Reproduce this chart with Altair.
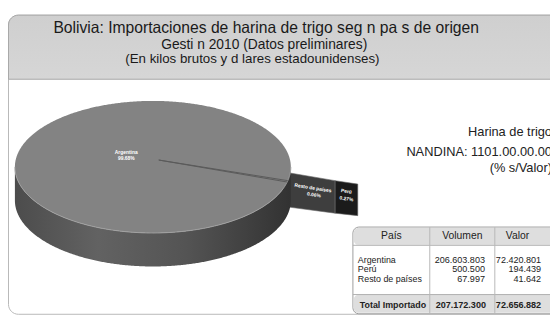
import altair as alt
import numpy as np
import pandas as pd

# ---------------- data ----------------
paises = ["Argentina", "Perú", "Resto de países"]
volumen = ["206.603.803", "500.500", "67.997"]
valor = ["72.420.801", "194.439", "41.642"]
porcentaje = [99.68, 0.27, 0.06]
total_label = "Total Importado"
total_volumen = "207.172.300"
total_valor = "72.656.882"
col_headers = ["País", "Volumen", "Valor"]

titulo = "Bolivia: Importaciones de harina de trigo seg n pa s de origen"
subtitulo = "Gesti n 2010 (Datos preliminares)"
unidades = "(En kilos brutos y d lares estadounidenses)"
nota = ["Harina de trigo", "NANDINA: 1101.00.00.00", "(% s/Valor)"]

# ---------------- layout ----------------
W, H = 550, 310
FONT = "Liberation Sans, Arial, sans-serif"
xs = alt.Scale(domain=[0, W], nice=False, zero=False)
ys = alt.Scale(domain=[0, H], nice=False, zero=False, reverse=True)


def XQ(f):
    return alt.X(f"{f}:Q", scale=xs, axis=None)


def YQ(f):
    return alt.Y(f"{f}:Q", scale=ys, axis=None)


def rect_chart(df, **mark):
    return alt.Chart(df).mark_rect(**mark).encode(
        x=XQ("x0"), x2=alt.X2("x1:Q"), y=YQ("y0"), y2=alt.Y2("y1:Q")
    )


def text_chart(df, **mark):
    return alt.Chart(df).mark_text(font=FONT, **mark).encode(
        x=XQ("x"), y=YQ("y"), text="t:N"
    )


layers = []

# frame + header
layers.append(rect_chart(pd.DataFrame({"x0": [0.5], "x1": [W + 20], "y0": [5], "y1": [H - 1.5]}),
                         fill="white", stroke="#b8b8b8", strokeWidth=1, cornerRadius=10))
layers.append(rect_chart(pd.DataFrame({"x0": [0.5], "x1": [W + 20], "y0": [5], "y1": [70]}),
                         fill=alt.Gradient(gradient="linear", x1=0, x2=0, y1=0, y2=1,
                                           stops=[alt.GradientStop(offset=0, color="#cfcfcf"),
                                                  alt.GradientStop(offset=1, color="#d6d6d6")]),
                         stroke="#a8a8a8", strokeWidth=1, cornerRadiusTopLeft=10))

layers.append(text_chart(pd.DataFrame({"x": [262], "y": [18], "t": [titulo]}),
                         fontSize=15.9, color="#1a1a1a", align="center", baseline="middle"))
layers.append(text_chart(pd.DataFrame({"x": [260], "y": [35.5], "t": [subtitulo]}),
                         fontSize=14, color="#1a1a1a", align="center", baseline="middle"))
layers.append(text_chart(pd.DataFrame({"x": [248], "y": [50], "t": [unidades]}),
                         fontSize=13.5, color="#1a1a1a", align="center", baseline="middle"))

# note at right
layers.append(text_chart(pd.DataFrame({"x": [552] * 3, "y": [124, 144, 160], "t": nota}),
                         fontSize=13, color="#222", align="right", baseline="middle"))

# ---------------- 3D pie ----------------
cx, cy, rx, ry, depth = 147, 159, 140, 67, 34
t = np.linspace(np.pi, 0, 361)
px = cx + rx * np.cos(t)
s = np.sin(t)
top_df = pd.DataFrame({"x": px, "y": cy - ry * s, "y2": cy + ry * s})
side_df = pd.DataFrame({"x": px, "y": cy + ry * s, "y2": cy + ry * s + depth})

# exploded small slices drawn as a strip leaving the pie on the right
start_deg = 12.0
small_share = sum(porcentaje[1:]) / 100.0
edge_x = cx + rx * np.cos(np.radians(start_deg))
edge_y = cy + ry * np.sin(np.radians(start_deg))
seg_len = [53, 23]          # Resto de países, Perú (drawn lengths)
slope = 9.0 / 53
x_a = edge_x - 5
x_b = x_a + seg_len[0]
x_c = x_b + seg_len[1]
strip_df = pd.DataFrame({
    "x": [x_a, x_b, x_b, x_c],
    "y": [edge_y - 9, edge_y - 9 + slope * seg_len[0], edge_y - 9 + slope * seg_len[0],
          edge_y - 9 + slope * seg_len[0] + 3.5],
    "y2": [edge_y + 26, edge_y + 33, edge_y + 33, edge_y + 35.5],
    "seg": [paises[2], paises[2], paises[1], paises[1]],
    "fill": ["#3e3e3e", "#3e3e3e", "#1b1b1b", "#1b1b1b"],
})
layers.append(alt.Chart(strip_df).mark_area(stroke="#6a6a6a", strokeWidth=0.6).encode(
    x=XQ("x"), y=YQ("y"), y2=alt.Y2("y2:Q"),
    fill=alt.Fill("fill:N", scale=None), detail="seg:N"))

side_grad = alt.Gradient(gradient="linear", x1=0, x2=1, y1=0, y2=0, stops=[
    alt.GradientStop(offset=0, color="#4c4c4c"),
    alt.GradientStop(offset=0.3, color="#626262"),
    alt.GradientStop(offset=0.62, color="#545454"),
    alt.GradientStop(offset=0.9, color="#3b3b3b"),
    alt.GradientStop(offset=1, color="#323232"),
])
layers.append(alt.Chart(side_df).mark_area(fill=side_grad).encode(
    x=XQ("x"), y=YQ("y"), y2=alt.Y2("y2:Q")))
layers.append(alt.Chart(top_df).mark_area(fill="#838383").encode(
    x=XQ("x"), y=YQ("y"), y2=alt.Y2("y2:Q")))
# rim highlight on the front edge
rim_df = pd.DataFrame({"x": px, "y": cy + ry * s})
layers.append(alt.Chart(rim_df).mark_line(color="#a2a2a2", strokeWidth=1).encode(
    x=XQ("x"), y=YQ("y")))

# slice boundary lines on the top face
end_deg = start_deg + 360 * small_share
sl_df = pd.DataFrame({
    "x": [cx + 6, cx + 6], "y": [cy - 7, cy - 7],
    "x2": [cx + rx * np.cos(np.radians(a)) for a in (start_deg, end_deg)],
    "y2": [cy + ry * np.sin(np.radians(a)) for a in (start_deg, end_deg)],
})
layers.append(alt.Chart(sl_df).mark_rule(color="#5a5a5a", strokeWidth=1).encode(
    x=XQ("x"), y=YQ("y"), x2=alt.X2("x2:Q"), y2=alt.Y2("y2:Q")))

# slice labels
pct = [f"{p:.2f}%" for p in porcentaje]
lab_df = pd.DataFrame({"x": [120, 120], "y": [144, 150], "t": [paises[0], pct[0]]})
layers.append(text_chart(lab_df, fontSize=5, fontWeight="bold", color="white",
                         align="center", baseline="middle"))
mid_r = (x_a + 8 + x_b) / 2
mid_p = (x_b + x_c) / 2
small_lab = pd.DataFrame({
    "x": [mid_r, mid_r + 1, mid_p, mid_p],
    "y": [edge_y + 7, edge_y + 14, edge_y + 10.5, edge_y + 18],
    "t": ["Resto de países", pct[2], "Perú", pct[1]],
})
layers.append(text_chart(small_lab, fontSize=5, fontWeight="bold", color="white",
                         align="center", baseline="middle", angle=9))

# ---------------- table ----------------
tx0, ty0, ty1 = 350, 220, 308
c1, c2 = 428, 494
layers.append(rect_chart(pd.DataFrame({"x0": [tx0], "x1": [W + 20], "y0": [ty0], "y1": [ty1]}),
                         fill="white", stroke="#9c9c9c", strokeWidth=1, cornerRadius=6))
layers.append(rect_chart(pd.DataFrame({"x0": [tx0 + 1, tx0 + 1], "x1": [W + 20, W + 20],
                                       "y0": [ty0 + 1, 289], "y1": [238, ty1 - 1]}),
                         fill="#dedede", cornerRadius=4))
hl = pd.DataFrame({"x": [tx0, tx0], "x2": [W + 20, W + 20], "y": [238.5, 288.5], "y2": [238.5, 288.5]})
layers.append(alt.Chart(hl).mark_rule(color="#b0b0b0", strokeWidth=1).encode(
    x=XQ("x"), x2=alt.X2("x2:Q"), y=YQ("y"), y2=alt.Y2("y2:Q")))
vl = pd.DataFrame({"x": [c1, c2], "y": [ty0, ty0], "y2": [ty1, ty1]})
layers.append(alt.Chart(vl).mark_rule(color="#b8b8b8", strokeWidth=1).encode(
    x=XQ("x"), y=YQ("y"), y2=alt.Y2("y2:Q")))

layers.append(text_chart(pd.DataFrame({"x": [389, 461, 517], "y": [229] * 3, "t": col_headers}),
                         fontSize=10.5, color="#222", align="center", baseline="middle"))
row_y = [253 + 10 * i for i in range(len(paises))]
layers.append(text_chart(pd.DataFrame({"x": [355] * 3, "y": row_y, "t": paises}),
                         fontSize=9, color="#222", align="left", baseline="middle"))
layers.append(text_chart(pd.DataFrame({"x": [484] * 3, "y": row_y, "t": volumen}),
                         fontSize=9.2, color="#222", align="right", baseline="middle"))
layers.append(text_chart(pd.DataFrame({"x": [541] * 3, "y": row_y, "t": valor}),
                         fontSize=9.2, color="#222", align="right", baseline="middle"))
layers.append(text_chart(pd.DataFrame({"x": [357], "y": [299], "t": [total_label]}),
                         fontSize=9, fontWeight="bold", color="#222", align="left", baseline="middle"))
layers.append(text_chart(pd.DataFrame({"x": [485, 541], "y": [299, 299], "t": [total_volumen, total_valor]}),
                         fontSize=9.2, fontWeight="bold", color="#222", align="right", baseline="middle"))

chart = alt.layer(*layers).properties(
    width=W, height=H, padding=0, autosize=alt.AutoSizeParams(type="none"), background="white"
).configure_view(stroke=None)

chart.save("out.html", embed_options={"renderer": "svg", "actions": False})
